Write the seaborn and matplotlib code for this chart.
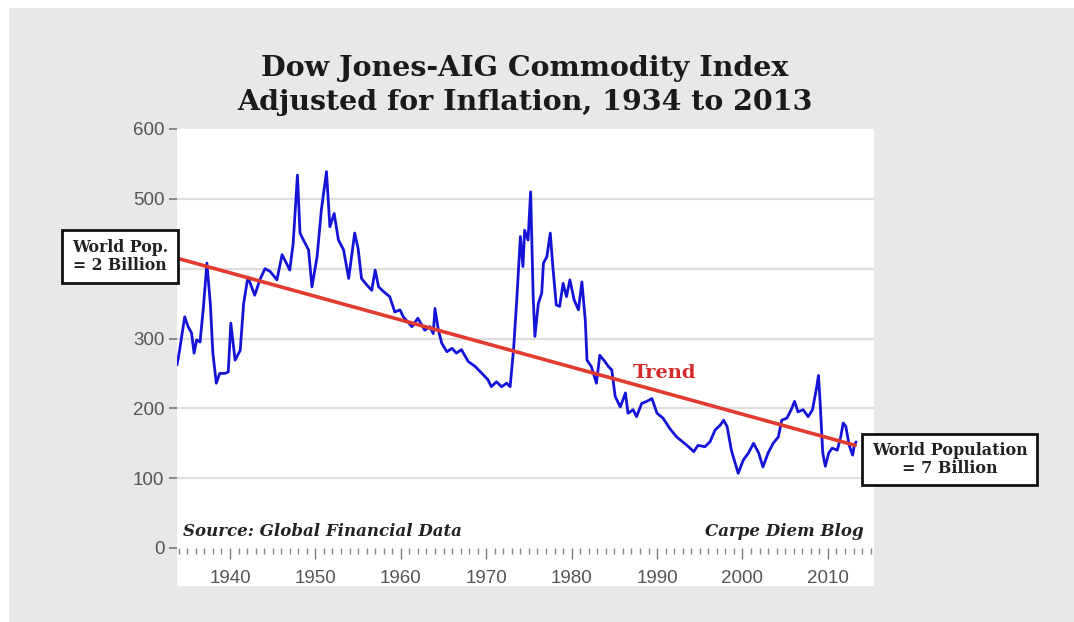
import matplotlib
matplotlib.use("Agg")
import matplotlib.pyplot as plt
from matplotlib.patches import Rectangle
from matplotlib.ticker import MultipleLocator
import seaborn as sns
import pandas as pd

# ---------------- data ----------------
years = [1933.8, 1934.1, 1934.7, 1935.1, 1935.5, 1935.8, 1936.1, 1936.5, 1936.9, 1937.3,
         1937.7, 1938.0, 1938.4, 1938.8, 1939.4, 1939.8, 1940.1, 1940.6, 1941.2, 1941.6,
         1942.1, 1942.9, 1943.5, 1944.1, 1944.7, 1945.5, 1946.1, 1946.6, 1947.0, 1947.4,
         1947.9, 1948.2, 1948.6, 1949.2, 1949.6, 1950.2, 1950.7, 1951.3, 1951.7, 1952.2,
         1952.7, 1953.3, 1953.9, 1954.6, 1955.0, 1955.4, 1956.0, 1956.6, 1957.0, 1957.4,
         1958.0, 1958.7, 1959.3, 1959.9, 1960.3, 1961.3, 1962.0, 1962.8, 1963.4, 1963.8,
         1964.0, 1964.4, 1964.8, 1965.4, 1966.0, 1966.5, 1967.1, 1967.9, 1968.7, 1969.5,
         1970.2, 1970.6, 1971.2, 1971.8, 1972.4, 1972.8, 1973.2, 1973.6, 1974.0, 1974.3,
         1974.5, 1974.9, 1975.2, 1975.5, 1975.7, 1976.1, 1976.5, 1976.7, 1977.1, 1977.5,
         1977.8, 1978.2, 1978.6, 1979.0, 1979.4, 1979.8, 1980.3, 1980.8, 1981.2, 1981.6,
         1981.8, 1982.3, 1982.9, 1983.3, 1983.9, 1984.3, 1984.7, 1985.1, 1985.7, 1986.3,
         1986.6, 1987.2, 1987.6, 1988.2, 1988.8, 1989.4, 1990.0, 1990.7, 1991.5, 1992.3,
         1992.7, 1993.5, 1994.3, 1994.8, 1995.6, 1996.2, 1996.8, 1997.4, 1997.8, 1998.2,
         1998.7, 1999.5, 2000.1, 2000.7, 2001.3, 2001.9, 2002.4, 2003.0, 2003.6, 2004.2,
         2004.6, 2005.2, 2005.7, 2006.1, 2006.5, 2007.1, 2007.7, 2008.2, 2008.7, 2008.9,
         2009.1, 2009.4, 2009.7, 2010.1, 2010.5, 2011.1, 2011.5, 2011.8, 2012.1, 2012.5,
         2012.9, 2013.1, 2013.3]
index_values = [262, 283, 331, 317, 308, 279, 298, 295, 346, 408,
                350, 279, 236, 250, 250, 252, 322, 269, 283, 350,
                388, 362, 384, 400, 396, 384, 420, 408, 398, 436,
                534, 451, 441, 427, 374, 417, 484, 539, 460, 479,
                441, 427, 386, 451, 429, 386, 377, 369, 398, 374,
                367, 360, 338, 341, 331, 317, 329, 312, 317, 307,
                343, 312, 293, 281, 286, 279, 284, 267, 260, 250,
                241, 231, 238, 231, 236, 231, 284, 360, 446, 403,
                455, 441, 510, 360, 303, 350, 365, 408, 417, 451,
                403, 348, 346, 379, 360, 384, 355, 341, 381, 326,
                269, 260, 236, 276, 267, 260, 255, 217, 202, 222,
                193, 198, 188, 207, 210, 214, 193, 186, 171, 159,
                155, 147, 138, 147, 145, 152, 169, 176, 183, 174,
                140, 107, 126, 136, 150, 136, 116, 136, 150, 159,
                183, 186, 198, 210, 195, 198, 188, 198, 231, 247,
                207, 136, 117, 136, 143, 140, 159, 179, 174, 147,
                133, 147, 152]
trend_years = [1933.8, 2013.2]
trend_values = [415, 147]

y_ticks = [0, 100, 200, 300, 400, 500, 600]
y_tick_labels = ["0", "100", "200", "300", "", "500", "600"]  # 400 is hidden behind the box
grid_values = [100, 200, 300, 400, 500]
x_ticks = [1940, 1950, 1960, 1970, 1980, 1990, 2000, 2010]

title_lines = ["Dow Jones-AIG Commodity Index", "Adjusted for Inflation, 1934 to 2013"]
left_note = "World Pop.\n= 2 Billion"
right_note = "World Population\n= 7 Billion"
trend_label = "Trend"
source_label = "Source: Global Financial Data"
blog_label = "Carpe Diem Blog"

# ---------------- figure ----------------
sns.set_style("white")
plt.rcParams['font.family'] = ['DejaVu Sans']

W, H = 1074, 622
fig = plt.figure(figsize=(W / 100, H / 100), dpi=100)
fig.patch.set_facecolor("white")

def fx(px):
    return px / W

def fy(py):
    return 1 - py / H

# gray background panel and white plotting region
fig.patches.append(Rectangle((fx(9), 0), fx(1074 - 9), 1 - 8 / H,
                             transform=fig.transFigure, facecolor="#e8e8e8",
                             edgecolor="none", zorder=-10))
fig.patches.append(Rectangle((fx(177), fy(586)), fx(874 - 177), (586 - 129) / H,
                             transform=fig.transFigure, facecolor="white",
                             edgecolor="none", zorder=-9))

ax = fig.add_axes([fx(177), fy(548), fx(874 - 177), (548 - 129) / H])
ax.set_facecolor("none")

df = pd.DataFrame({"year": years, "value": index_values})
sns.lineplot(data=df, x="year", y="value", ax=ax, color="#1414d8", linewidth=2.0, zorder=3)
tf = pd.DataFrame({"year": trend_years, "value": trend_values})
sns.lineplot(data=tf, x="year", y="value", ax=ax, color="#e33a2f", linewidth=2.6, zorder=4)

ax.set_xlim(1933.8, 2015.4)
ax.set_ylim(0, 600)
ax.set_xlabel("")
ax.set_ylabel("")
for s in ax.spines.values():
    s.set_visible(False)

for g in grid_values:
    ax.axhline(g, color="#dedede", linewidth=1.6, zorder=1)

ax.set_yticks(y_ticks)
ax.set_yticklabels(y_tick_labels)
ax.set_xticks(x_ticks)
ax.xaxis.set_minor_locator(MultipleLocator(1))
ax.tick_params(axis="y", which="major", length=6, width=1.2, color="#777777",
               labelcolor="#555555", labelsize=13.5, pad=3, left=True)
ax.tick_params(axis="x", which="major", length=8, width=1.0, color="#777777",
               labelcolor="#555555", labelsize=13.5, pad=8, bottom=True, direction="out")
ax.tick_params(axis="x", which="minor", length=4, width=1.0, color="#888888", bottom=True,
               direction="out")
for lab in ax.get_xticklabels() + ax.get_yticklabels():
    lab.set_family(["Liberation Sans", "DejaVu Sans"])

# in-plot texts
ax.text(1990.9, 251, trend_label, color="#d42a2a", fontsize=14, fontweight="bold",
        family=["DejaVu Serif"], ha="center", va="center", zorder=5)
fig.text(fx(183), fy(531), source_label, fontsize=12, fontweight="bold", style="italic",
         family=["DejaVu Serif"], ha="left", va="center", color="#222222")
fig.text(fx(864), fy(532), blog_label, fontsize=12, fontweight="bold", style="italic",
         family=["DejaVu Serif"], ha="right", va="center", color="#222222")

# title
fig.text(fx(525), fy(68), title_lines[0], fontsize=20.5, fontweight="bold",
         family=["DejaVu Serif"], ha="center", va="center", color="#1a1a1a")
fig.text(fx(525), fy(103), title_lines[1], fontsize=20.5, fontweight="bold",
         family=["DejaVu Serif"], ha="center", va="center", color="#1a1a1a")

# annotation boxes
def note_box(x0, y0, x1, y1, text, size):
    fig.patches.append(Rectangle((fx(x0), fy(y1)), fx(x1 - x0), (y1 - y0) / H,
                                 transform=fig.transFigure, facecolor="white",
                                 edgecolor="#111111", linewidth=2.0, zorder=6))
    fig.text(fx((x0 + x1) / 2), fy((y0 + y1) / 2), text, fontsize=size, fontweight="bold",
             family=["DejaVu Serif"], ha="center", va="center", color="#222222",
             linespacing=1.15, zorder=7)

note_box(62, 230, 178, 283, left_note, 11.3)
note_box(862, 434, 1037, 485, right_note, 11.5)

fig.savefig("out.png", dpi=100, facecolor=fig.get_facecolor())
